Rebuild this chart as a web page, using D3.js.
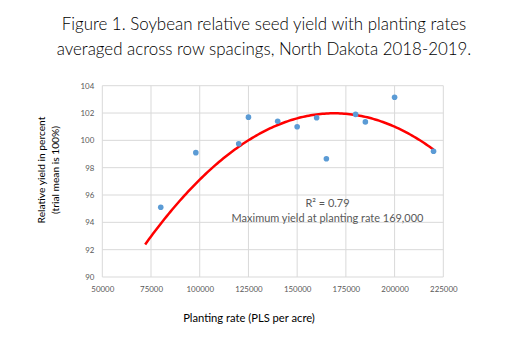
<!DOCTYPE html>
<html><head><meta charset="utf-8">
<script src="https://cdn.jsdelivr.net/npm/d3@7"></script>
<style>body{margin:0;background:#fff}svg{display:block}</style>
</head><body><svg id="c" width="525" height="349"></svg>
<script>
const titleLines = ["Figure 1. Soybean relative seed yield with planting rates", "averaged across row spacings, North Dakota 2018-2019."];
const plantingRate = [80000, 98000, 120000, 125000, 140000, 150000, 160000, 165000, 180000, 185000, 200000, 220000];
const relYield = [95.1, 99.1, 99.75, 101.7, 101.4, 101.0, 101.65, 98.65, 101.9, 101.35, 103.15, 99.2];
const xTicks = [50000, 75000, 100000, 125000, 150000, 175000, 200000, 225000];
const yTicks = [90, 92, 94, 96, 98, 100, 102, 104];
// polynomial (order 2) trendline as reported: peak yield at 169,000 PLS/acre
const trendRange = [72000, 220000];
const trendPeakX = 169000;
const trendPeakY = 101.98;
const trendCurvature = 0.00102; // yield drop per (1000 PLS)^2
const annotation = ["R² = 0.79", "Maximum yield at planting rate 169,000"];
const xTitle = "Planting rate (PLS per acre)";
const yTitle = ["Relative yield in percent", "(trial mean is 100%)"];

const svg = d3.select("#c");
const x = d3.scaleLinear().domain([50000, 225000]).range([102.3, 443.3]);
const y = d3.scaleLinear().domain([90, 104]).range([277, 85.7]);
const font = "Lato, 'Open Sans', sans-serif";

// scale font so the widest text of the selection spans the target width
function fitWidth(sel, target) {
  let w = 0;
  sel.each(function () { w = Math.max(w, this.getComputedTextLength()); });
  const fs = parseFloat(sel.attr("font-size"));
  sel.attr("font-size", fs * target / w);
}

const tt = svg.append("g").selectAll("text").data(titleLines).join("text")
  .attr("x", 264).attr("y", (d, i) => 30 + i * 25)
  .attr("text-anchor", "middle").attr("font-family", font).attr("font-weight", 300)
  .attr("font-size", 18).attr("fill", "#000").text(d => d);
fitWidth(tt, 415);

const g = svg.append("g");
g.selectAll("line.h").data(yTicks).join("line")
  .attr("x1", x(50000)).attr("x2", x(225000)).attr("y1", d => y(d)).attr("y2", d => y(d))
  .attr("stroke", "#d9d9d9").attr("stroke-width", 1);
g.selectAll("line.v").data(xTicks).join("line")
  .attr("y1", y(90)).attr("y2", y(104)).attr("x1", d => x(d)).attr("x2", d => x(d))
  .attr("stroke", "#d9d9d9").attr("stroke-width", 1);

const xa = svg.append("g").attr("transform", `translate(0,${y(90)})`)
  .call(d3.axisBottom(x).tickValues(xTicks).tickFormat(d3.format("d")).tickSize(0).tickPadding(9));
const ya = svg.append("g").attr("transform", `translate(${x(50000)},0)`)
  .call(d3.axisLeft(y).tickValues(yTicks).tickFormat(d3.format("d")).tickSize(0).tickPadding(8));
[xa, ya].forEach(a => {
  a.select(".domain").remove();
  a.selectAll("text").attr("font-family", font).attr("font-size", 8.5).attr("fill", "#595959");
});
fitWidth(xa.selectAll(".tick text").filter(d => d === 50000), 23);
const tickFs = xa.selectAll(".tick text").filter(d => d === 50000).attr("font-size");
xa.selectAll(".tick text").attr("font-size", tickFs);
ya.selectAll(".tick text").attr("font-size", tickFs);

const f = v => trendPeakY - trendCurvature * Math.pow((v - trendPeakX) / 1000, 2);
const xs = d3.range(trendRange[0], trendRange[1] + 1, 1000);
svg.append("path").datum(xs)
  .attr("d", d3.line().x(d => x(d)).y(d => y(f(d))))
  .attr("fill", "none").attr("stroke", "#ff0000").attr("stroke-width", 2.5);

svg.append("g").selectAll("circle").data(plantingRate).join("circle")
  .attr("cx", d => x(d)).attr("cy", (d, i) => y(relYield[i])).attr("r", 2.8).attr("fill", "#5b9bd5");

const an = svg.append("g").selectAll("text").data(annotation).join("text")
  .attr("x", 327.5).attr("y", (d, i) => 207 + i * 14.5).attr("text-anchor", "middle")
  .attr("font-family", font).attr("font-size", 10.5).attr("fill", "#595959").text(d => d);
fitWidth(an, 192);

const xt = svg.append("text").attr("x", 249).attr("y", 322).attr("text-anchor", "middle")
  .attr("font-family", font).attr("font-size", 11).attr("fill", "#000").text(xTitle);
fitWidth(xt, 132);
const yt = svg.append("g").selectAll("text").data(yTitle).join("text")
  .attr("transform", (d, i) => `translate(${45 + i * 13.5},170) rotate(-90)`)
  .attr("text-anchor", "middle").attr("font-family", font).attr("font-size", 11).attr("fill", "#000").text(d => d);
fitWidth(yt, 107);
</script></body></html>
